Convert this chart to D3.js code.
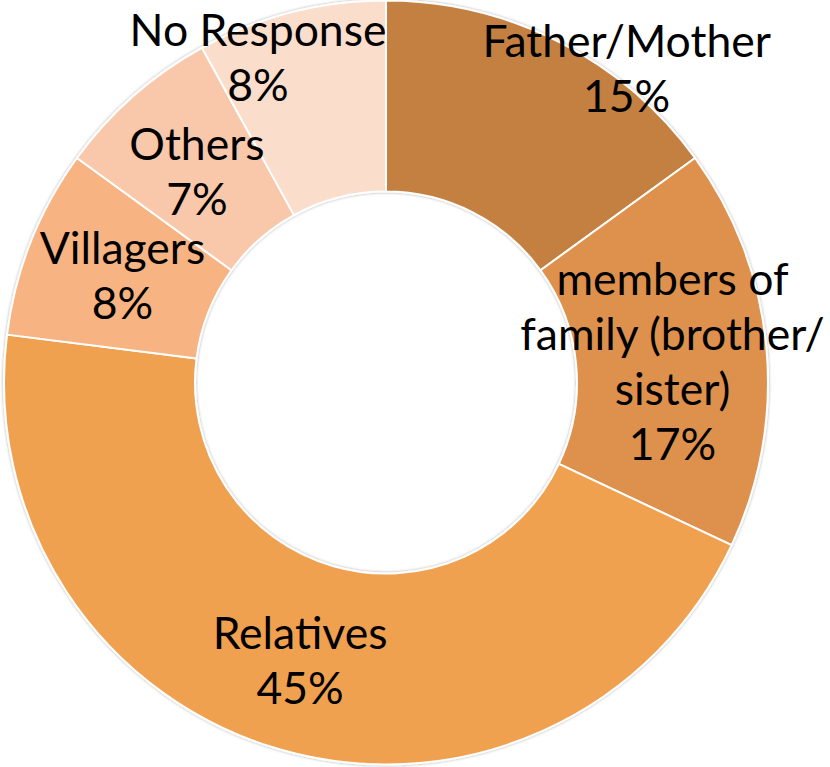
<!doctype html>
<html lang="en">
<head>
<meta charset="UTF-8">
<title>Donut</title>
<style>
  html, body { margin: 0; padding: 0; background: #fff; }
  svg { display: block; }
  .label { font-family: Lato, "Noto Sans", sans-serif; font-size: 44.5px; fill: #000; }
</style>
</head>
<body>
<svg></svg>
<script src="https://cdnjs.cloudflare.com/ajax/libs/d3/7.8.5/d3.min.js"></script>
<script>
// data, clockwise from 12 o'clock
const categories = ["Father/Mother", "members of family (brother/ sister)", "Relatives", "Villagers", "Others", "No Response"];
const labelLines = [["Father/Mother"], ["members of", "family (brother/", "sister)"], ["Relatives"], ["Villagers"], ["Others"], ["No Response"]];
const percents = [15, 17, 45, 8, 7, 8];
const colors = ["#c48040", "#de914d", "#f0a150", "#f7b482", "#f9c8ab", "#fbddcc"];

// label block centres, as offsets from the centre in units of the outer radius
const labelOffsets = [[0.63, -0.82], [0.75, -0.055], [-0.225, 0.73], [-0.69, -0.28], [-0.495, -0.55], [-0.335, -0.85]];

const width = 830, height = 767;
const cx = 386, cy = 382.5;
const outerR = 382, innerR = 191;
const lineH = 55;

const svg = d3.select("svg").attr("width", width).attr("height", height);

const defs = svg.append("defs");
const shadow = defs.append("filter").attr("id", "shadow")
    .attr("x", "-10%").attr("y", "-10%").attr("width", "120%").attr("height", "120%");
shadow.append("feDropShadow")
    .attr("dx", 0).attr("dy", 0).attr("stdDeviation", 1.5)
    .attr("flood-color", "#000").attr("flood-opacity", 0.35);

const g = svg.append("g").attr("transform", `translate(${cx},${cy})`);

const pie = d3.pie().sort(null).value(d => d);
const arcs = pie(percents);
const arc = d3.arc().innerRadius(innerR).outerRadius(outerR);

// ring with soft edge shadow
g.append("g").attr("filter", "url(#shadow)")
  .selectAll("path")
  .data(arcs)
  .enter().append("path")
  .attr("d", arc)
  .attr("fill", (d, i) => colors[i])
  .attr("stroke", "#fff")
  .attr("stroke-width", 2)
  .attr("stroke-linejoin", "round");

// labels
const labels = g.append("g").selectAll("text")
  .data(arcs)
  .enter().append("text")
  .attr("class", "label")
  .attr("text-anchor", "middle");

labels.each(function (d, i) {
  const lines = labelLines[i].concat([percents[i] + "%"]);
  const x = labelOffsets[i][0] * outerR;
  const y0 = labelOffsets[i][1] * outerR - (lines.length - 1) * lineH / 2;
  d3.select(this).selectAll("tspan")
    .data(lines)
    .enter().append("tspan")
    .attr("x", x)
    .attr("y", (t, j) => y0 + j * lineH)
    .attr("dy", "0.35em")
    .text(t => t);
});
</script>
</body>
</html>
